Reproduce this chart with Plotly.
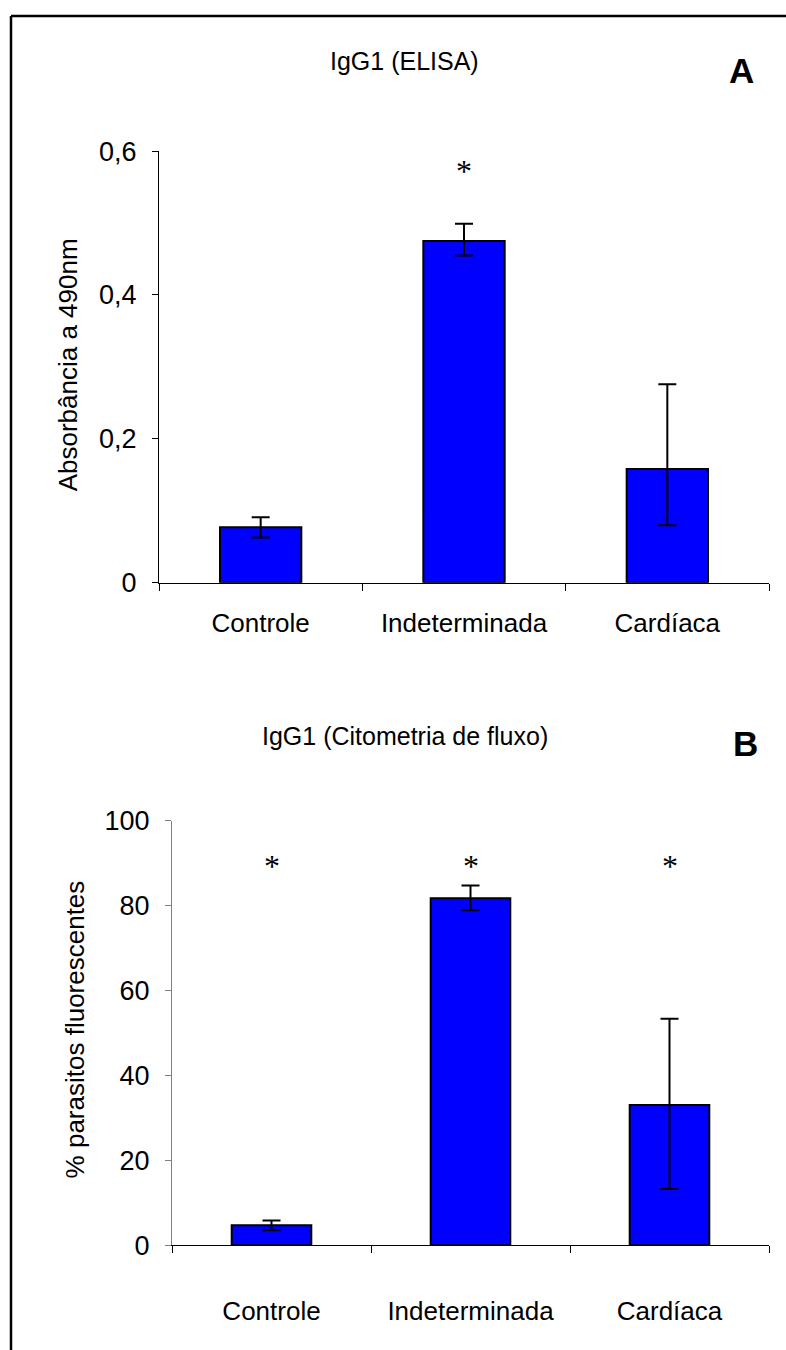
import plotly.graph_objects as go

W, H = 786, 1350

categories = ["Controle", "Indeterminada", "Cardíaca"]

# Panel A: IgG1 by ELISA (absorbance at 490 nm)
elisa_mean = [0.077, 0.475, 0.158]
elisa_err_plus = [0.014, 0.024, 0.118]
elisa_err_minus = [0.014, 0.020, 0.078]
elisa_ticks = [0, 0.2, 0.4, 0.6]
elisa_tick_text = ["0", "0,2", "0,4", "0,6"]
elisa_star_cats = ["Indeterminada"]
elisa_star_y = [0.569]

# Panel B: IgG1 by flow cytometry (% fluorescent parasites)
flow_mean = [4.7, 81.7, 33.0]
flow_err_plus = [1.1, 3.0, 20.3]
flow_err_minus = [1.2, 2.8, 19.8]
flow_ticks = [0, 20, 40, 60, 80, 100]
flow_tick_text = ["0", "20", "40", "60", "80", "100"]
flow_star_cats = ["Controle", "Indeterminada", "Cardíaca"]
flow_star_y = [90, 90, 90]

SANS = "Liberation Sans, Arial, Helvetica, sans-serif"
SERIF = "Liberation Serif, Times New Roman, serif"
BLUE = "#0000FF"

# page placement: the figure is shown 8 px below the top, slightly squeezed
TOP_OFF = 8.0
YSCALE = 0.988


def px(x):
    return x / W


def py(y):
    """Paper fraction for a vertical position measured on the page."""
    return 1 - ((y - TOP_OFF) / YSCALE) / H


fig = go.Figure()

err_style = dict(type="data", symmetric=False, color="black", thickness=2, width=9)

fig.add_trace(go.Bar(
    x=categories, y=elisa_mean, xaxis="x", yaxis="y", width=0.4,
    marker=dict(color=BLUE, line=dict(color="black", width=2)),
    error_y=dict(array=elisa_err_plus, arrayminus=elisa_err_minus, **err_style),
    showlegend=False,
))
fig.add_trace(go.Bar(
    x=categories, y=flow_mean, xaxis="x2", yaxis="y2", width=0.4,
    marker=dict(color=BLUE, line=dict(color="black", width=2)),
    error_y=dict(array=flow_err_plus, arrayminus=flow_err_minus, **err_style),
    showlegend=False,
))

xcommon = dict(
    type="category", tickson="boundaries", ticks="outside", ticklen=7,
    tickcolor="black", tickwidth=1, showline=True, linecolor="black", linewidth=1,
    showgrid=False, zeroline=False,
    tickfont=dict(family=SANS, size=26, color="black"),
)
ycommon = dict(
    ticks="outside", ticklen=6, tickwidth=1, showline=True, linewidth=1,
    showgrid=False, zeroline=False,
    tickfont=dict(family=SANS, size=27, color="black"),
    ticklabelstandoff=10,
)

fig.update_layout(
    width=W, height=H, autosize=False,
    margin=dict(l=0, r=0, t=0, b=0),
    paper_bgcolor="white", plot_bgcolor="white",
    bargap=0.6,
    xaxis=dict(domain=[px(159), px(769)], anchor="y", ticklabelstandoff=17, **xcommon),
    yaxis=dict(domain=[py(581.7), py(145.5)], anchor="x", range=[0, 0.6],
               tickvals=elisa_ticks, ticktext=elisa_tick_text,
               linecolor="black", tickcolor="black", **ycommon),
    xaxis2=dict(domain=[px(172), px(769)], anchor="y2", ticklabelstandoff=43, **xcommon),
    yaxis2=dict(domain=[py(1251), py(822)], anchor="x2", range=[0, 100],
                tickvals=flow_ticks, ticktext=flow_tick_text,
                linecolor="#808080", tickcolor="#808080", **ycommon),
)

annotations = []

# Panel titles and letters
annotations.append(dict(text="IgG1 (ELISA)", x=px(404), y=py(54), xref="paper", yref="paper",
                        showarrow=False, xanchor="center", yanchor="middle",
                        font=dict(family=SANS, size=25, color="black")))
annotations.append(dict(text="IgG1 (Citometria de fluxo)", x=px(405), y=py(737), xref="paper", yref="paper",
                        showarrow=False, xanchor="center", yanchor="middle",
                        font=dict(family=SANS, size=25, color="black")))
annotations.append(dict(text="<b>A</b>", x=px(741), y=py(64), xref="paper", yref="paper",
                        showarrow=False, xanchor="center", yanchor="middle",
                        font=dict(family=SANS, size=35, color="black")))
annotations.append(dict(text="<b>B</b>", x=px(745), y=py(744), xref="paper", yref="paper",
                        showarrow=False, xanchor="center", yanchor="middle",
                        font=dict(family=SANS, size=35, color="black")))

# Y-axis titles
annotations.append(dict(text="Absorbância a 490nm", x=px(68), y=py(362), xref="paper", yref="paper",
                        showarrow=False, textangle=-90, xanchor="center", yanchor="middle",
                        font=dict(family=SANS, size=26, color="black")))
annotations.append(dict(text="% parasitos fluorescentes", x=px(75), y=py(1033), xref="paper", yref="paper",
                        showarrow=False, textangle=-90, xanchor="center", yanchor="middle",
                        font=dict(family=SANS, size=26, color="black")))

# Significance asterisks
for c, yv in zip(elisa_star_cats, elisa_star_y):
    annotations.append(dict(text="*", x=c, y=yv, xref="x", yref="y", showarrow=False,
                            xanchor="center", yanchor="middle", yshift=2,
                            font=dict(family=SERIF, size=32, color="black")))
for c, yv in zip(flow_star_cats, flow_star_y):
    annotations.append(dict(text="*", x=c, y=yv, xref="x2", yref="y2", showarrow=False,
                            xanchor="center", yanchor="middle", yshift=-3,
                            font=dict(family=SERIF, size=32, color="black")))

fig.update_layout(annotations=annotations)

# Figure frame (left and top edges)
fig.add_shape(type="line", xref="paper", yref="paper", x0=px(11), x1=1.0, y0=py(9), y1=py(9),
              line=dict(color="black", width=2.5))
fig.add_shape(type="line", xref="paper", yref="paper", x0=px(11), x1=px(11), y0=py(9), y1=-0.02,
              line=dict(color="black", width=2.5))

fig.write_html("out.html", config={"displayModeBar": False})
